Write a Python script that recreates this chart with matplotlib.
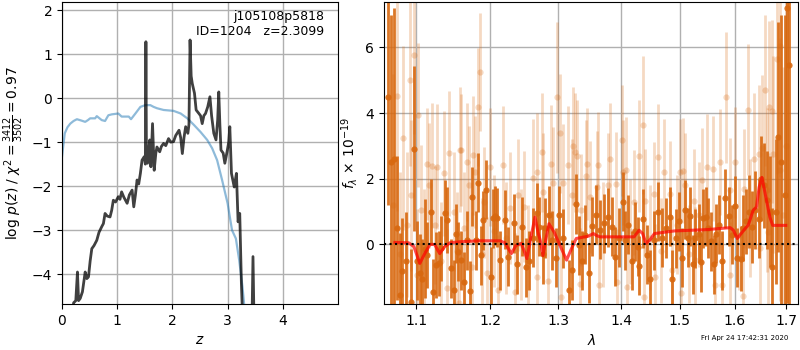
import matplotlib
matplotlib.use('Agg')
import matplotlib.pyplot as plt
from matplotlib.ticker import FixedLocator, NullLocator, NullFormatter, FixedFormatter

# p(z) panel
z_pz = [0.18, 0.21, 0.25, 0.28, 0.30, 0.33, 0.37, 0.42, 0.45, 0.48, 0.51, 0.54, 0.58, 0.63, 0.67,
        0.72, 0.75, 0.78, 0.82, 0.87, 0.90, 0.93, 0.97, 1.02, 1.05, 1.08, 1.12, 1.18, 1.22, 1.27,
        1.30, 1.33, 1.36, 1.39, 1.42, 1.45, 1.49, 1.51, 1.52, 1.53, 1.55, 1.57, 1.59, 1.61, 1.64,
        1.67, 1.70, 1.72, 1.77, 1.80, 1.84, 1.88, 1.93, 1.97, 2.02, 2.06, 2.12, 2.15, 2.18, 2.21,
        2.24, 2.28, 2.30, 2.32, 2.34, 2.36, 2.40, 2.43, 2.48, 2.51, 2.54, 2.57, 2.60, 2.64, 2.68,
        2.71, 2.75, 2.79, 2.82, 2.84, 2.86, 2.88, 2.92, 2.95, 2.99, 3.02, 3.04, 3.07, 3.12, 3.16,
        3.19, 3.22, 3.25, 3.30, 3.43, 3.46, 3.49]
logp = [-5.5, -4.65, -4.6, -3.95, -4.6, -4.55, -4.4, -3.95, -4.1, -4.06, -3.7, -3.42, -3.35, -3.23, -3.05,
        -2.92, -2.85, -2.62, -2.68, -2.70, -2.55, -2.32, -2.36, -2.24, -2.30, -2.13, -2.25, -2.39, -2.20, -2.09,
        -2.47, -2.20, -1.86, -1.95, -1.71, -1.41, -1.33, -1.50, 1.28, -1.45, -1.48, -1.20, -0.95, -1.56, -0.58,
        -1.64, -1.25, -1.11, -1.22, -1.10, -1.03, -1.08, -0.92, -1.00, -0.99, -0.85, -0.73, -0.90, -1.26, -0.90,
        -0.65, -0.80, -0.60, 1.32, 0.50, 0.33, 0.11, -0.27, -0.35, -0.40, -0.58, -0.40, -0.35, -0.20, 0.03,
        -0.40, -0.80, -0.95, -0.50, 0.14, -0.60, -1.18, -1.25, -1.48, -1.22, -1.00, -0.65, -1.71, -2.02, -1.71,
        -2.81, -2.62, -4.21, -6.0, -6.0, -3.60, -6.0]

z_chi = [0.0, 0.05, 0.10, 0.15, 0.21, 0.27, 0.35, 0.42, 0.47, 0.51, 0.60, 0.63, 0.68, 0.72, 0.78,
         0.84, 0.90, 0.96, 1.02, 1.08, 1.15, 1.21, 1.25, 1.33, 1.42, 1.51, 1.60, 1.66, 1.72, 1.84,
         2.02, 2.15, 2.27, 2.39, 2.51, 2.63, 2.72, 2.81, 2.90, 3.00, 3.08, 3.15, 3.21, 3.27, 3.31]
chi2 = [-1.33, -0.80, -0.66, -0.58, -0.52, -0.48, -0.51, -0.54, -0.50, -0.46, -0.46, -0.41, -0.46, -0.50, -0.52,
        -0.39, -0.37, -0.36, -0.35, -0.42, -0.42, -0.42, -0.48, -0.35, -0.20, -0.16, -0.16, -0.20, -0.23, -0.27,
        -0.29, -0.35, -0.46, -0.61, -0.77, -0.95, -1.14, -1.41, -1.86, -2.39, -3.00, -3.19, -3.68, -4.29, -4.82]

# spectrum panel: well-measured points
wave_a = [1.0639, 1.0673, 1.0715, 1.0748, 1.0791, 1.0820, 1.0862, 1.0926, 1.0970, 1.1013,
          1.1047, 1.1078, 1.1108, 1.1144, 1.1188, 1.1222, 1.1263, 1.1298, 1.1329, 1.1374,
          1.1400, 1.1454, 1.1499, 1.1531, 1.1553, 1.1599, 1.1636, 1.1681, 1.1714, 1.1750,
          1.1796, 1.1834, 1.1866, 1.1900, 1.1946, 1.2007, 1.2039, 1.2069, 1.2101, 1.2140,
          1.2212, 1.2260, 1.2342, 1.2380, 1.2463, 1.2512, 1.2567, 1.2620, 1.2676, 1.2710,
          1.2776, 1.2800, 1.2866, 1.2902, 1.2960, 1.3019, 1.3080, 1.3173, 1.3209, 1.3272,
          1.3330, 1.3366, 1.3420, 1.3488, 1.3525, 1.3593, 1.3658, 1.3727, 1.3792, 1.3857,
          1.3901, 1.3960, 1.4027, 1.4066, 1.4120, 1.4177, 1.4230, 1.4278, 1.4305, 1.4373,
          1.4441, 1.4486, 1.4554, 1.4629, 1.4687, 1.4760, 1.4838, 1.4872, 1.4937, 1.4990,
          1.5036, 1.5097, 1.5140, 1.5185, 1.5230, 1.5275, 1.5336, 1.5380, 1.5426, 1.5467,
          1.5500, 1.5560, 1.5610, 1.5660, 1.5710, 1.5770, 1.5826, 1.5890, 1.5950, 1.6000,
          1.6050, 1.6120, 1.6160, 1.6220, 1.6270, 1.6330, 1.6400, 1.6460, 1.6510, 1.6560,
          1.6630, 1.6680, 1.6730, 1.6800, 1.6850, 1.6910, 1.6970, 1.7030, 1.7070]
flux_a = [4.5, 2.5, 2.6, 0.5, -1.55, -0.8, -0.5, -1.75, 2.92, -0.5,
          -0.88, -1.04, -0.13, -0.33, 0.98, -1.44, -0.63, -0.58, -0.12, 0.96,
          0.74, -0.73, -1.39, 0.33, -0.22, -0.48, -1.14, 0.13, -1.41, 1.45,
          0.13, 1.88, -0.33, 0.74, 1.67, -0.98, 0.79, 0.87, 0.81, -0.49,
          0.75, -0.37, 0.64, -0.60, 0.54, -0.70, -0.50, 0.20, 0.96, 0.54,
          -0.30, 0.50, 0.89, 0.13, -0.40, 0.89, 0.18, -1.39, -0.78, 1.23,
          -0.02, -0.50, 0.30, -0.87, 0.55, 0.90, 0.45, 0.64, 0.83, 0.54,
          -0.37, 0.20, 1.30, 0.13, 0.60, -0.50, 0.40, -0.07, -0.65, 0.78,
          -0.32, -1.06, 0.13, 1.00, 0.21, 0.50, 0.84, -1.06, 0.18, 0.70,
          -0.40, 1.05, 0.20, 0.85, -0.60, 0.18, 0.33, -0.55, 0.79, 0.84,
          0.50, 0.10, -0.60, 0.33, 0.60, -0.50, 1.40, 0.85, 0.30, 1.17,
          -0.40, -0.43, 0.50, 0.70, 1.00, 0.54, 1.05, 0.78, 2.00, 1.80,
          1.35, 1.00, -0.68, 1.00, 3.28, 2.50, 1.50, 7.20, 5.45]
err_a = [3.3, 4.5, 4.6, 2.2, 1.9, 1.6, 1.5, 1.6, 2.5, 1.2,
         1.2, 1.2, 1.5, 1.0, 1.0, 1.0, 1.0, 1.0, 1.0, 1.0,
         1.0, 0.9, 0.9, 0.9, 0.9, 0.9, 0.9, 0.9, 0.9, 0.9,
         0.9, 0.9, 0.9, 0.9, 0.9, 0.9, 0.9, 0.9, 0.9, 0.9,
         0.9, 0.9, 0.9, 0.9, 0.9, 0.9, 0.9, 0.9, 0.9, 0.9,
         0.9, 0.9, 0.9, 0.9, 0.9, 0.9, 0.9, 0.9, 0.9, 0.9,
         0.9, 0.9, 0.9, 0.9, 0.9, 0.9, 0.9, 0.9, 0.9, 0.9,
         0.9, 0.9, 0.9, 0.9, 0.9, 0.9, 0.9, 0.9, 0.9, 0.9,
         0.9, 0.9, 0.9, 0.9, 0.9, 0.9, 0.9, 0.9, 0.9, 0.9,
         0.9, 0.9, 0.9, 0.9, 0.9, 0.9, 0.9, 0.9, 0.9, 0.9,
         0.9, 0.9, 0.9, 0.9, 0.9, 0.9, 0.9, 0.9, 0.9, 0.9,
         0.9, 1.0, 1.0, 1.0, 1.1, 1.1, 1.2, 1.2, 1.3, 1.3,
         1.5, 1.7, 1.8, 2.2, 3.5, 4.5, 5.5, 9.0, 8.0]

# spectrum panel: noisier points
wave_b = [1.0700, 1.0748, 1.0790, 1.0833, 1.0875, 1.0918, 1.0935, 1.0970, 1.1013, 1.1022,
          1.1056, 1.1100, 1.1144, 1.1165, 1.1210, 1.1240, 1.1275, 1.1320, 1.1364, 1.1409,
          1.1436, 1.1500, 1.1540, 1.1567, 1.1581, 1.1599, 1.1640, 1.1672, 1.1705, 1.1740,
          1.1764, 1.1782, 1.1834, 1.1857, 1.1890, 1.1912, 1.1950, 1.1997, 1.2050, 1.2116,
          1.2178, 1.2230, 1.2284, 1.2357, 1.2405, 1.2450, 1.2488, 1.2540, 1.2616, 1.2676,
          1.2686, 1.2761, 1.2776, 1.2851, 1.2897, 1.2926, 1.2987, 1.3030, 1.3050, 1.3070,
          1.3158, 1.3209, 1.3235, 1.3262, 1.3298, 1.3340, 1.3350, 1.3434, 1.3456, 1.3497,
          1.3604, 1.3620, 1.3647, 1.3700, 1.3781, 1.3819, 1.3912, 1.3928, 1.4010, 1.4038,
          1.4076, 1.4104, 1.4150, 1.4220, 1.4300, 1.4373, 1.4389, 1.4401, 1.4480, 1.4560,
          1.4572, 1.4629, 1.4680, 1.4733, 1.4832, 1.4860, 1.4950, 1.5008, 1.5025, 1.5067,
          1.5097, 1.5170, 1.5246, 1.5275, 1.5350, 1.5408, 1.5488, 1.5609, 1.5641, 1.5733,
          1.5763, 1.5844, 1.5907, 1.5920, 1.6001, 1.6080, 1.6159, 1.6172, 1.6248, 1.6300,
          1.6364, 1.6459, 1.6492, 1.6525, 1.6576, 1.6623, 1.6640, 1.6654, 1.6721, 1.6739,
          1.6819, 1.6873, 1.6887, 1.6939, 1.7000]
flux_b = [1.2, 4.51, -0.3, 3.25, 0.6, 5.0, 1.5, 5.76, -0.93, 3.94,
          1.04, -0.2, 2.44, 1.8, 2.40, 0.6, 2.37, -0.5, 2.16, -1.34,
          2.77, 1.0, -0.2, -1.8, 2.89, 2.87, 0.5, 2.50, 1.80, -0.7,
          2.71, 2.21, 4.19, 5.26, -0.3, 1.28, -0.88, 2.36, 0.4, -1.40,
          2.42, 0.2, 1.10, -1.45, 1.50, 0.0, 1.15, -0.5, 2.03, -1.00,
          2.20, 2.80, 1.60, -1.10, 2.45, 1.88, 4.48, 3.38, -1.60, 1.88,
          2.43, 1.50, 3.00, 2.80, 2.70, -1.20, 1.05, 2.08, 2.45, 1.45,
          1.75, 2.43, -1.24, 0.3, 1.80, 2.60, 1.83, -1.14, 3.17, 2.20,
          2.28, -1.29, 0.4, 1.28, 2.70, 3.64, -1.60, 1.32, 0.2, 1.52,
          -0.98, 2.67, -0.2, 2.22, 1.55, -0.78, 0.6, 2.22, -1.49, 2.25,
          1.80, -0.3, 1.32, -0.47, 0.9, 1.95, 2.37, 2.30, -1.24, 2.51,
          -1.24, 4.48, 1.65, -0.93, 2.50, 0.3, -1.57, 1.70, 4.10, 0.8,
          2.60, 2.75, -0.12, 2.95, 4.70, 1.65, 0.38, 4.20, 4.05, 2.75,
          5.65, 6.05, 2.28, 0.90, 3.0]
err_b = [4.0, 3.5, 2.5, 2.8, 2.2, 2.6, 2.3, 2.4, 2.0, 2.2,
         2.0, 1.9, 1.7, 1.9, 1.9, 1.8, 1.9, 1.8, 1.9, 1.8,
         1.9, 1.8, 1.8, 1.7, 1.9, 1.7, 1.7, 1.8, 1.8, 1.7,
         1.8, 1.7, 1.8, 1.8, 1.7, 1.7, 1.7, 1.8, 1.7, 1.7,
         1.8, 1.7, 1.7, 1.8, 1.7, 1.7, 1.7, 1.7, 1.8, 1.7,
         1.8, 1.8, 1.8, 1.7, 1.8, 1.7, 2.3, 1.8, 1.7, 1.8,
         1.8, 1.7, 1.8, 1.8, 1.7, 1.7, 1.7, 1.7, 1.7, 1.7,
         1.7, 1.6, 1.6, 1.6, 1.6, 1.7, 1.6, 1.6, 1.7, 1.6,
         1.6, 1.6, 1.6, 1.6, 1.7, 2.1, 1.6, 1.6, 1.6, 1.6,
         1.6, 1.6, 1.6, 1.6, 1.6, 1.6, 1.5, 1.6, 1.6, 1.6,
         1.6, 1.5, 1.6, 1.6, 1.6, 1.6, 1.6, 1.6, 1.6, 1.6,
         1.6, 2.0, 1.6, 1.6, 1.7, 1.7, 1.7, 1.8, 2.0, 1.8,
         2.0, 2.1, 2.0, 2.2, 2.3, 2.5, 2.4, 2.6, 2.8, 3.0,
         3.5, 4.0, 4.0, 4.5, 5.0]

# best-fit model
wave_m = [1.0727, 1.0902, 1.0970, 1.1046, 1.1110, 1.1180, 1.1240, 1.1308, 1.1370, 1.1445,
          1.1580, 1.1855, 1.2140, 1.2210, 1.2303, 1.2370, 1.2450, 1.2530, 1.2580, 1.2650,
          1.2700, 1.2730, 1.2770, 1.2810, 1.2860, 1.2940, 1.3050, 1.3130, 1.3205, 1.3280,
          1.3470, 1.3550, 1.3600, 1.3656, 1.4215, 1.4300, 1.4360, 1.4416, 1.4480, 1.4560,
          1.4905, 1.5488, 1.5920, 1.5980, 1.6052, 1.6100, 1.6200, 1.6260, 1.6355, 1.6420,
          1.6470, 1.6525, 1.6590, 1.6680, 1.6735, 1.6995]
flux_m = [0.06, 0.05, -0.07, -0.58, -0.28, 0.0, 0.0, -0.28, -0.08, 0.05,
          0.08, 0.11, 0.11, 0.05, -0.28, -0.03, 0.03, -0.43, 0.12, 0.83,
          0.33, 0.12, -0.34, 0.12, 0.63, 0.37, -0.13, -0.48, -0.13, 0.18,
          0.25, 0.33, 0.27, 0.23, 0.23, 0.43, 0.33, 0.03, 0.13, 0.33,
          0.41, 0.45, 0.51, 0.43, 0.18, 0.28, 0.48, 0.58, 1.04, 1.14,
          1.74, 2.04, 1.53, 0.83, 0.58, 0.58]

wave_ticks = [1.1, 1.2, 1.3, 1.4, 1.5, 1.6, 1.7]

fig = plt.figure(figsize=(8, 3.5), dpi=100)
ax1 = fig.add_axes([0.0775, 0.131, 0.345, 0.863])
ax2 = fig.add_axes([0.48, 0.131, 0.518, 0.863])

ax1.plot(z_chi, chi2, color='tab:blue', alpha=0.5, lw=1.6)
ax1.plot(z_pz, logp, color='k', alpha=0.75, lw=2)
ax1.set_xlim(0, 5.0)
ax1.set_ylim(-4.68, 2.18)
ax1.set_xticks([0, 1, 2, 3, 4])
ax1.set_yticks([-4, -3, -2, -1, 0, 1, 2])
ax1.grid(color='#b0b0b0', lw=1)
ax1.set_axisbelow(True)
ax1.set_xlabel('$z$')
ax1.set_ylabel(r'log $p(z)$ / $\chi^2=\frac{3412}{3502}=0.97$')
ax1.text(0.95, 0.975, 'j105108p5818\nID=1204   z=2.3099', transform=ax1.transAxes,
         ha='right', va='top', fontsize=9)

orange = '#d8680f'
ax2.errorbar(wave_b, flux_b, yerr=err_b, fmt='o', color=orange, alpha=0.25,
             ms=4.5, elinewidth=2.0, capsize=0, markeredgewidth=0)
ax2.errorbar(wave_a, flux_a, yerr=err_a, fmt='o', color=orange, alpha=0.9,
             ms=4.5, elinewidth=2.0, capsize=0, markeredgewidth=0)
ax2.plot(wave_m, flux_m, color='red', alpha=0.7, lw=2.2, zorder=5)
ax2.axhline(0, color='k', ls=':', lw=1.5, zorder=6)

ax2.set_xscale('log')
ax2.xaxis.set_major_locator(FixedLocator(wave_ticks))
ax2.xaxis.set_major_formatter(FixedFormatter([str(w) for w in wave_ticks]))
ax2.xaxis.set_minor_locator(NullLocator())
ax2.xaxis.set_minor_formatter(NullFormatter())
ax2.set_xlim(1.059, 1.725)
ax2.set_ylim(-1.82, 7.38)
ax2.set_yticks([0, 2, 4, 6])
ax2.grid(color='#b0b0b0', lw=1)
ax2.set_axisbelow(True)
ax2.set_xlabel(r'$\lambda$')
ax2.set_ylabel(r'$f_\lambda\,\times\,10^{-19}$')

fig.text(0.985, 0.025, 'Fri Apr 24 17:42:31 2020', ha='right', va='bottom', fontsize=5)

fig.savefig('out.png', dpi=100)
